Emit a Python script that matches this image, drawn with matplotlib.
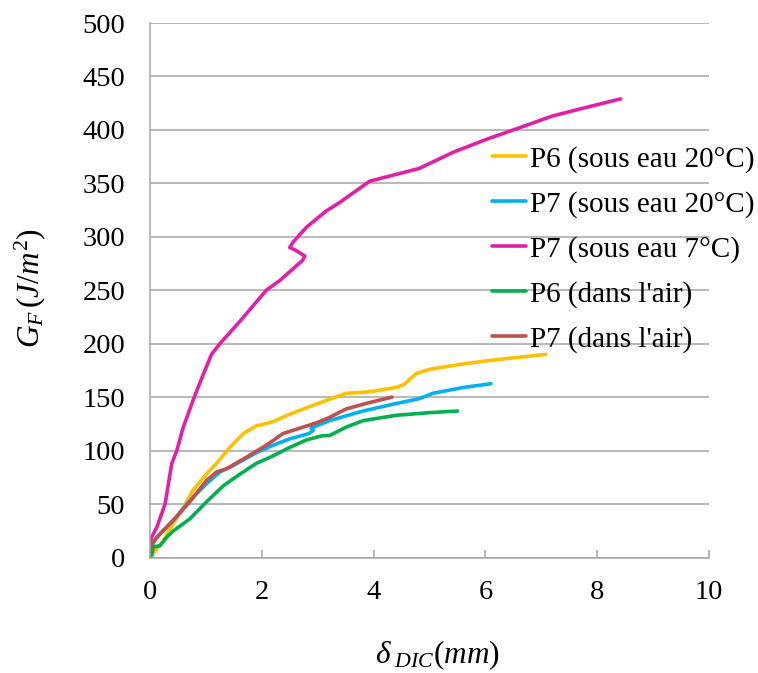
import matplotlib
matplotlib.use("Agg")
import matplotlib.pyplot as plt

plt.rcParams['font.family'] = ['Liberation Serif', 'DejaVu Serif']
plt.rcParams['mathtext.fontset'] = 'custom'
plt.rcParams['mathtext.rm'] = 'Liberation Serif'
plt.rcParams['mathtext.it'] = 'Liberation Serif:italic'
plt.rcParams['mathtext.bf'] = 'Liberation Serif:bold'

# P6 (sous eau 20°C)
p6_eau20_x = [0.0, 0.06, 0.24, 0.42, 0.6, 0.77, 1.01, 1.19, 1.43, 1.67, 1.9, 2.2, 2.5, 2.8, 3.21, 3.51, 3.93, 4.4, 4.55, 4.76, 5.0, 5.59, 6.19, 7.08]
p6_eau20_y = [0, 4, 16, 32, 47, 63, 78, 88, 103, 116, 123, 127, 134, 140, 148, 153.6, 155, 159, 162, 172, 176, 181, 185, 190]

# P7 (sous eau 20°C)
p7_eau20_x = [0.0, 0.12, 0.42, 0.71, 1.01, 1.25, 1.49, 1.9, 2.2, 2.5, 2.85, 2.92, 2.88, 3.21, 3.81, 4.4, 4.82, 5.06, 5.6, 6.1]
p7_eau20_y = [8, 19, 35, 53, 69, 80, 86, 98, 105, 111, 116, 119, 121, 128, 137, 144, 148.6, 153.6, 159, 162.6]

# P7 (sous eau 7°C)
p7_eau7_x = [0.0, 0.03, 0.12, 0.27, 0.39, 0.48, 0.59, 0.77, 0.92, 1.10, 1.25, 1.61, 2.08, 2.32, 2.73, 2.77, 2.62, 2.5, 2.56, 2.80, 3.15, 3.39, 3.93, 4.82, 5.42, 6.01, 6.61, 7.2, 7.8, 8.42]
p7_eau7_y = [14, 19, 28, 50, 88, 100, 121, 147, 167, 190, 200, 221, 250, 259, 278, 282, 287, 290, 295, 309, 324, 332, 352, 364, 379, 391, 402, 413, 421, 429]

# P6 (dans l'air)
p6_air_x = [0.0, 0.03, 0.06, 0.18, 0.3, 0.42, 0.71, 1.01, 1.31, 1.61, 1.9, 2.2, 2.5, 2.8, 3.09, 3.21, 3.51, 3.81, 4.4, 5.0, 5.5]
p6_air_y = [0, 2, 10, 11, 19, 25, 36, 52, 67, 78, 88, 95, 103, 110, 114, 114, 122, 128, 133, 135.5, 137]

# P7 (dans l'air)
p7_air_x = [0.0, 0.03, 0.18, 0.42, 0.71, 1.01, 1.19, 1.37, 1.73, 2.08, 2.38, 2.62, 2.98, 3.21, 3.51, 3.93, 4.33]
p7_air_y = [5, 13, 22, 35, 52, 72, 80, 83, 94, 105, 116, 120, 126, 131, 139, 145, 150]

labels = ["P6 (sous eau 20°C)", "P7 (sous eau 20°C)", "P7 (sous eau 7°C)",
          "P6 (dans l'air)", "P7 (dans l'air)"]
colors = ["#FFC000", "#00B0F0", "#E020A8", "#00B050", "#C0504D"]
xticks = [0, 2, 4, 6, 8, 10]
yticks = [0, 50, 100, 150, 200, 250, 300, 350, 400, 450, 500]

fig = plt.figure(figsize=(7.58, 6.73), dpi=100)
ax = fig.add_axes([150/758, 1-557.5/673, (709-150)/758, (557.5-23)/673])

series = [(p6_eau20_x, p6_eau20_y), (p7_eau20_x, p7_eau20_y), (p7_eau7_x, p7_eau7_y),
          (p6_air_x, p6_air_y), (p7_air_x, p7_air_y)]
for (xs, ys), lab, c in zip(series, labels, colors):
    ax.plot(xs, ys, color=c, lw=2.6, label=lab, solid_capstyle='round', solid_joinstyle='round')

ax.set_xlim(0, 10)
ax.set_ylim(0, 500)
ax.set_xticks(xticks)
ax.set_yticks(yticks)
ax.set_xticklabels([str(v) for v in xticks], fontsize=20.5)
ax.set_yticklabels([str(v) for v in yticks], fontsize=20.5)
ax.yaxis.grid(True, color='#A6A6A6', lw=1.1)
ax.set_axisbelow(True)
for s in ['top', 'right']:
    ax.spines[s].set_visible(False)
for s in ['left', 'bottom']:
    ax.spines[s].set_color('#A6A6A6')
    ax.spines[s].set_linewidth(1.1)
ax.tick_params(axis='y', length=0, pad=18)
ax.tick_params(axis='x', direction='in', length=6, color='#A6A6A6', width=1.1, pad=16)

fig.text(30/758, 1-288/673, r'$G_F\,(J/m^2)$', rotation=90, ha='center', va='center', fontsize=22.5)
fig.text(437/758, 1-655/673, r'$\delta_{\ DIC}(mm)$', ha='center', va='center', fontsize=22.5)

leg = ax.legend(loc='upper left', bbox_to_anchor=(492/758, 1-146/673), bbox_transform=fig.transFigure,
                frameon=False, fontsize=21, handlelength=1.15, handletextpad=0.15,
                labelspacing=0.62, borderpad=0, borderaxespad=0)
for l in leg.get_lines():
    l.set_linewidth(2.6)

fig.savefig('out.png', dpi=100)
